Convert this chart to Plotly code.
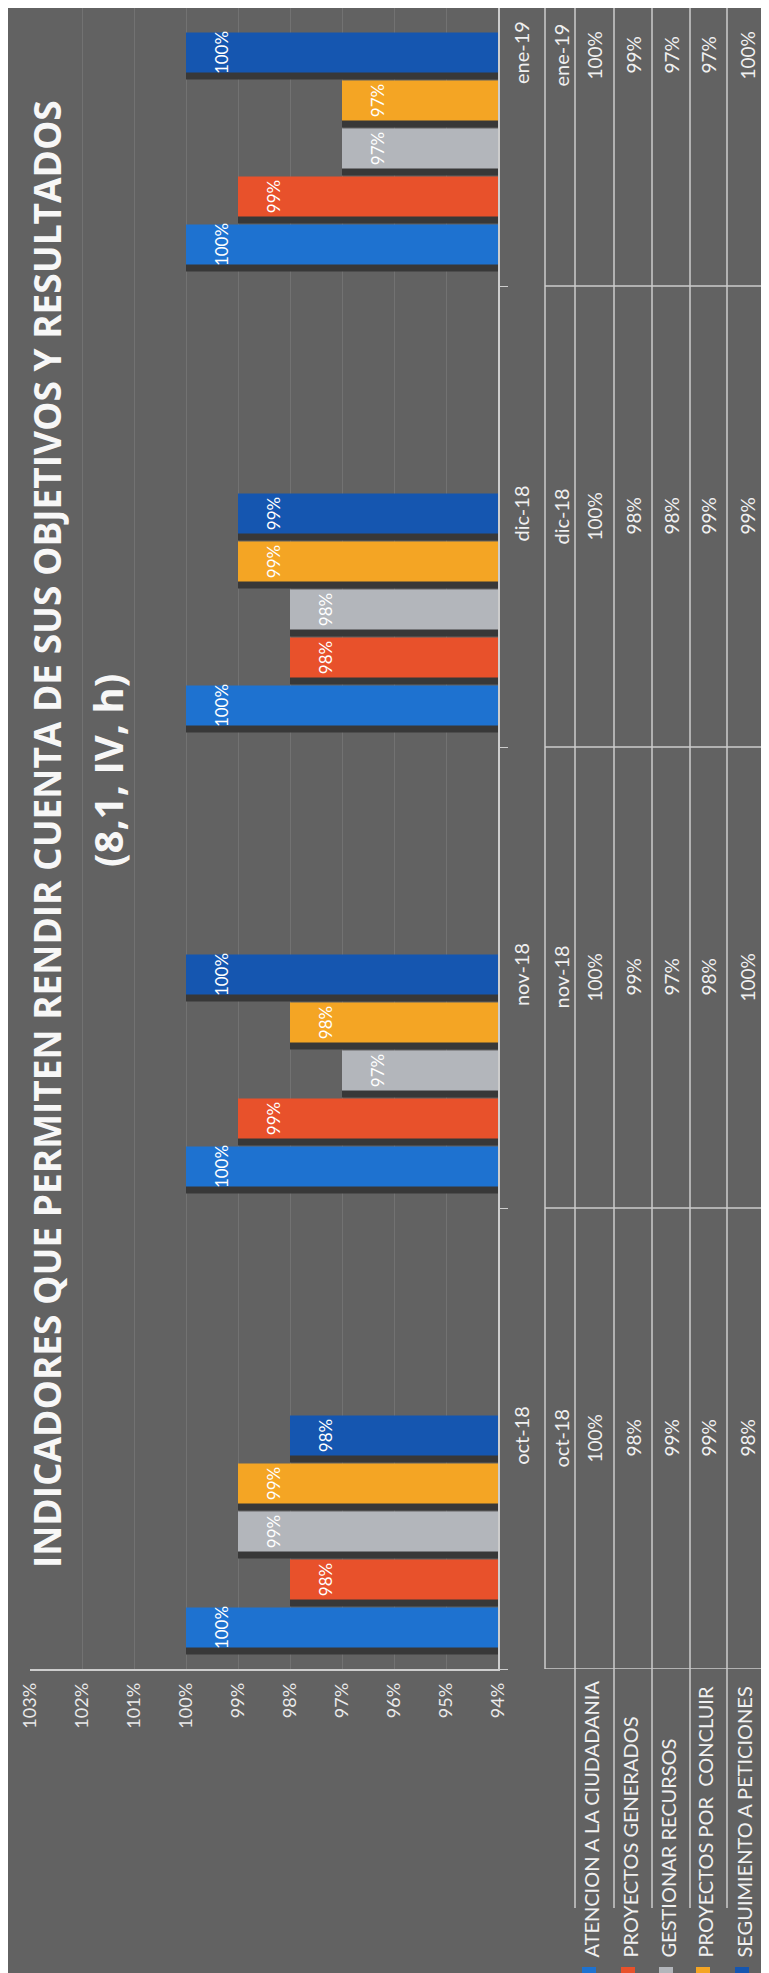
import plotly.graph_objects as go

# ---------------- data ----------------
categories = ["oct-18", "nov-18", "dic-18", "ene-19"]
series_names = [
    "ATENCION A LA CIUDADANIA",
    "PROYECTOS GENERADOS",
    "GESTIONAR RECURSOS",
    "PROYECTOS POR  CONCLUIR",
    "SEGUIMIENTO A PETICIONES",
]
atencion = [100, 100, 100, 100]
proyectos_generados = [98, 99, 98, 99]
gestionar_recursos = [99, 97, 98, 97]
proyectos_por_concluir = [99, 98, 99, 97]
seguimiento = [98, 100, 99, 100]
series_values = [atencion, proyectos_generados, gestionar_recursos,
                 proyectos_por_concluir, seguimiento]
value_ticks = [94, 95, 96, 97, 98, 99, 100, 101, 102, 103]
value_tick_labels = ["94%", "95%", "96%", "97%", "98%", "99%", "100%", "101%", "102%", "103%"]
title_line1 = "INDICADORES QUE PERMITEN RENDIR CUENTA DE SUS OBJETIVOS Y RESULTADOS"
title_line2 = "(8,1, IV, h)"

# ---------------- style ----------------
colors = ["#1E72D0", "#E8512B", "#B3B6BB", "#F4A524", "#1556B0"]
BG = "#626262"
LINE = "#cdcdcd"
TXT = "#f0f0f0"
W, H = 769, 1973
L, R, T, B = 22, 490, 0, 1661          # plot area in page pixels


def pxx(px):
    return (px - L) / (R - L)


def pxy(py):
    return (B - py) / (B - T)


CAT_PX = 461.0                          # pixels per category
bar_w = 40 / CAT_PX
pitch = 48 / CAT_PX
first_center = -0.41
centers = [first_center + k * pitch for k in range(5)]
shadow_shift = 7 / CAT_PX

fig = go.Figure()

# shadows
for k, vals in enumerate(series_values):
    fig.add_trace(go.Bar(
        y=categories, x=vals, orientation="h",
        width=bar_w, offset=centers[k] - bar_w / 2 - shadow_shift,
        marker=dict(color="#383838", line=dict(width=0)),
        showlegend=False, hoverinfo="skip",
    ))

# bars
for k, vals in enumerate(series_values):
    fig.add_trace(go.Bar(
        y=categories, x=vals, orientation="h", name=series_names[k],
        width=bar_w, offset=centers[k] - bar_w / 2,
        marker=dict(color=colors[k], line=dict(width=0)),
        text=[f"{v}%" for v in vals], texttemplate="\u00a0<br>%{text}",
        textposition="inside", insidetextanchor="end",
        textangle=-90, constraintext="none",
        textfont=dict(family="Lato", size=17, color="white"),
        showlegend=False,
    ))

annotations = []
# title
annotations.append(dict(
    text=title_line1, textangle=-90, showarrow=False,
    xref="paper", yref="paper", x=pxx(38), y=pxy(1562),
    xanchor="center", yanchor="bottom",
    font=dict(family="Open Sans", size=37, color="#f7f7f7", weight=700),
))
annotations.append(dict(
    text=title_line2, textangle=-90, showarrow=False,
    xref="paper", yref="paper", x=pxx(100), y=pxy(763),
    xanchor="center", yanchor="middle",
    font=dict(family="Open Sans", size=40, color="#f7f7f7", weight=700),
))

# data table
header_px = 552
row_px = [586, 625, 663, 700, 739]
for i, c in enumerate(categories):
    annotations.append(dict(
        text=c, textangle=-90, showarrow=False,
        xref="paper", yref="y", x=pxx(header_px), y=c,
        xanchor="center", yanchor="middle",
        font=dict(family="Lato", size=20, color=TXT),
    ))
    for k, vals in enumerate(series_values):
        annotations.append(dict(
            text=f"{vals[i]}%", textangle=-90, showarrow=False,
            xref="paper", yref="y", x=pxx(row_px[k]), y=c,
            xanchor="center", yanchor="middle",
            font=dict(family="Lato", size=19, color=TXT),
        ))

# legend (row labels)
for k, name in enumerate(series_names):
    annotations.append(dict(
        text=name, textangle=-90, showarrow=False,
        xref="paper", yref="paper", x=pxx(row_px[k] - 4), y=pxy(1952),
        xanchor="center", yanchor="bottom",
        font=dict(family="Lato", size=20, color=TXT),
    ))

shapes = []
# table grid
line_style = dict(color=LINE, width=1.5)
shapes.append(dict(type="line", xref="paper", yref="paper",
                   x0=pxx(537), x1=pxx(537), y0=pxy(0), y1=pxy(1661), line=line_style))
for xb in [567, 606, 644, 682, 719, 759]:
    shapes.append(dict(type="line", xref="paper", yref="paper",
                       x0=pxx(xb), x1=pxx(xb), y0=pxy(0), y1=pxy(1900), line=line_style))
for yb in [-0.5, 0.5, 1.5, 2.5]:
    shapes.append(dict(type="line", xref="paper", yref="y",
                       x0=pxx(537), x1=pxx(775), y0=yb, y1=yb, line=line_style))
# legend swatches
for k in range(5):
    shapes.append(dict(type="rect", xref="paper", yref="paper",
                       x0=pxx(row_px[k] - 12), x1=pxx(row_px[k] + 2),
                       y0=pxy(1976), y1=pxy(1959),
                       fillcolor=colors[k], line=dict(width=0)))

fig.update_layout(
    width=W, height=H,
    margin=dict(l=L, r=W - R, t=T, b=H - B, pad=0),
    paper_bgcolor=BG, plot_bgcolor=BG,
    barmode="overlay",
    showlegend=False,
    annotations=annotations,
    shapes=shapes,
    font=dict(family="Lato", color=TXT),
)
fig.update_xaxes(
    range=[103, 94], tickvals=value_ticks, ticktext=value_tick_labels,
    tickangle=-90, tickfont=dict(family="Lato", size=18, color="#eaeaea"),
    showgrid=True, gridcolor="rgba(255,255,255,0.10)", gridwidth=1,
    showline=True, linecolor=LINE, linewidth=1.5, zeroline=False,
    ticks="", ticklabelstandoff=5,
)
fig.update_yaxes(
    type="category", categoryorder="array", categoryarray=categories,
    range=[-0.5, -0.5 + (B - T) / CAT_PX], side="right",
    tickangle=-90, tickfont=dict(family="Lato", size=20, color=TXT),
    showline=True, linecolor=LINE, linewidth=1.5,
    ticks="outside", tickson="boundaries", ticklen=8, tickcolor=LINE,
    showgrid=False, zeroline=False, ticklabelstandoff=5,
)

fig.write_html("out.html")
